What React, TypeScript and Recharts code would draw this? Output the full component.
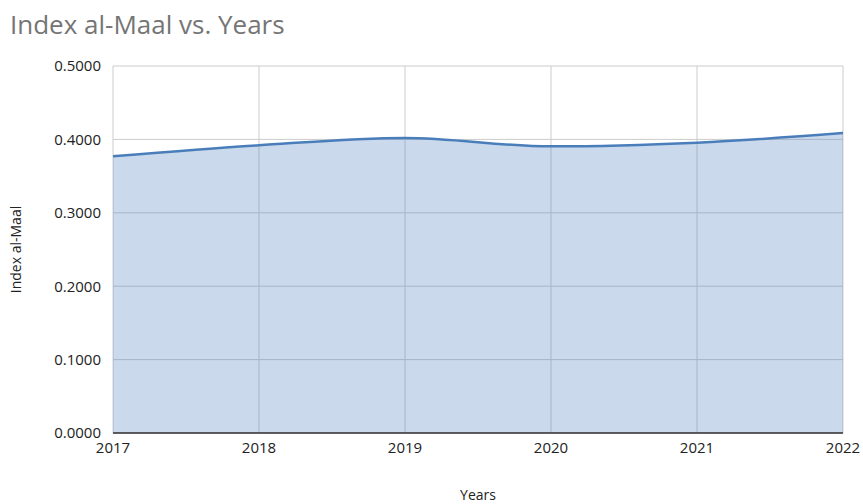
import { AreaChart, Area, XAxis, YAxis, CartesianGrid } from 'recharts'

const years = ['2017', '2018', '2019', '2020', '2021', '2022']
const indexValues = [0.377, 0.392, 0.402, 0.3905, 0.3955, 0.4086]
const yTicks = [0, 0.1, 0.2, 0.3, 0.4, 0.5]

const data = years.map((year, i) => ({ year, value: indexValues[i] }))

const FONT = '"Open Sans", sans-serif'

export default function App() {
  return (
    <div style={{ position: 'absolute', left: 0, top: 0, width: 863, height: 504, fontFamily: FONT, background: '#fff' }}>
      <div style={{ position: 'absolute', left: 10, top: 6, fontSize: 26, color: '#757575', lineHeight: '36px' }}>
        Index al-Maal vs. Years
      </div>
      <AreaChart width={863} height={504} data={data} margin={{ top: 66, right: 20, bottom: 0, left: 0 }}>
        <CartesianGrid stroke="#cccccc" />
        <XAxis
          dataKey="year"
          height={71}
          tick={{ fill: '#222', fontSize: 15, fontFamily: FONT }}
          tickLine={false}
          axisLine={{ stroke: '#333', strokeWidth: 1.5 }}
          tickMargin={3}
          label={{ value: 'Years', position: 'insideBottom', offset: 4, fill: '#222', fontSize: 14, fontFamily: FONT }}
        />
        <YAxis
          domain={[0, 0.5]}
          ticks={yTicks}
          width={113}
          tickFormatter={(v: number) => v.toFixed(4)}
          tick={{ fill: '#222', fontSize: 15, fontFamily: FONT }}
          tickLine={false}
          axisLine={false}
          tickMargin={6}
          label={{ value: 'Index al-Maal', angle: -90, position: 'insideLeft', offset: 16, fill: '#222', fontSize: 14, fontFamily: FONT, style: { textAnchor: 'middle' } }}
        />
        <Area
          type="monotone"
          dataKey="value"
          stroke="#4a7ebb"
          strokeWidth={2.5}
          fill="#4f81bd"
          fillOpacity={0.3}
          dot={false}
          isAnimationActive={false}
        />
      </AreaChart>
    </div>
  )
}
